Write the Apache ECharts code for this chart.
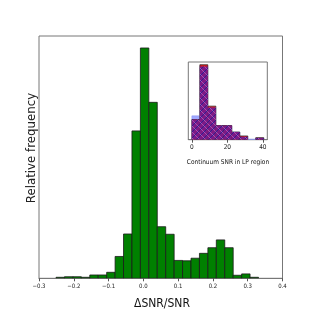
<!DOCTYPE html>
<html><head><meta charset="utf-8">
<script src="https://cdn.jsdelivr.net/npm/echarts@6/dist/echarts.min.js"></script>
<style>html,body{margin:0;padding:0;background:#fff}#c{width:314px;height:314px}</style>
</head><body><div id="c"></div>
<script>
// Main histogram: bin edges and relative frequencies
const binStart = -0.251;
const binWidth = 0.02425;
const mainFreq = [0.0011,0.0017,0.0017,0.0011,0.0036,0.0036,0.0065,0.0237,0.0481,0.160,0.250,0.191,0.056,0.0478,0.0194,0.0190,0.0218,0.0271,0.0332,0.0417,0.0332,0.0033,0.0048,0.0011];
const mainTicks = [-0.3,-0.2,-0.1,0.0,0.1,0.2,0.3,0.4];
// Inset histograms: continuum SNR in LP region
const insetEdges = [0,4.5,9,13.5,18,22.5,27,31.5,36,40.5];
const insetBlue = [0.140,0.430,0.189,0.083,0.083,0.045,0.018,0.004,0.010];
const insetRed  = [0.118,0.440,0.197,0.083,0.083,0.045,0.022,0.000,0.012];
const insetTicks = [0,20,40];

const mainData = mainFreq.map((v,i)=>[binStart+i*binWidth, binStart+(i+1)*binWidth, v]);
const blueData = insetBlue.map((v,i)=>[insetEdges[i],insetEdges[i+1],v]);
const redData = insetRed.map((v,i)=>[insetEdges[i],insetEdges[i+1],v]);
const overlapData = insetBlue.map((v,i)=>[insetEdges[i],insetEdges[i+1],Math.min(v,insetRed[i])]);

// hatch pattern
const pc = document.createElement('canvas');
pc.width = 6; pc.height = 6;
const g = pc.getContext('2d');
g.fillStyle = '#7d1a86'; g.fillRect(0,0,6,6);
g.strokeStyle = 'rgba(40,30,150,0.9)'; g.lineWidth = 1;
g.beginPath(); g.moveTo(0,6); g.lineTo(6,0); g.moveTo(-3,3); g.lineTo(3,-3); g.moveTo(3,9); g.lineTo(9,3); g.stroke();
g.strokeStyle = 'rgba(210,140,220,0.7)'; g.lineWidth = 0.7;
g.beginPath(); g.moveTo(0,0); g.lineTo(6,6); g.moveTo(-3,3); g.lineTo(3,9); g.moveTo(3,-3); g.lineTo(9,3); g.stroke();

function rectRender(fill, stroke, lw){
  return function(params, api){
    const x0 = api.value(0), x1 = api.value(1), y = api.value(2);
    if (y <= 0) return null;
    const p0 = api.coord([x0, y]);
    const p1 = api.coord([x1, 0]);
    return {type:'rect', shape:{x:p0[0], y:p0[1], width:p1[0]-p0[0], height:p1[1]-p0[1]},
      style:{fill:fill, stroke:stroke, lineWidth:lw}};
  };
}

const fmt = v => { const s = Math.abs(v).toFixed(1); return (v < -1e-9 ? '\u2212' : '') + s; };
const condensed = '"DejaVu Sans Condensed","Liberation Sans Narrow","DejaVu Sans",sans-serif';

const chart = echarts.init(document.getElementById('c'), null, {renderer:'canvas'});
chart.setOption({
  animation:false,
  grid:[
    {left:39, top:36, width:243.5, height:242.3, show:true, borderColor:'#777', borderWidth:1, containLabel:false},
    {left:188.3, top:62, width:79, height:77.7, show:true, borderColor:'#777', borderWidth:1, containLabel:false}
  ],
  xAxis:[
    {type:'value', gridIndex:0, min:-0.3, max:0.4, interval:0.1,
     axisLine:{show:true, onZero:false, lineStyle:{color:'#777', width:1}},
     axisTick:{show:true, inside:false, length:3, lineStyle:{color:'#555'}},
     axisLabel:{show:true, formatter:fmt, fontSize:6, color:'#222', margin:5, fontFamily:condensed},
     splitLine:{show:false}},
    {type:'value', gridIndex:1, min:-2, max:42.5,
     axisLine:{show:true, onZero:false, lineStyle:{color:'#777', width:1}},
     axisTick:{show:true, inside:false, length:3, customValues:insetTicks, lineStyle:{color:'#555'}},
     axisLabel:{show:true, customValues:insetTicks, fontSize:6.5, color:'#222', margin:4, fontFamily:condensed},
     splitLine:{show:false}}
  ],
  yAxis:[
    {type:'value', gridIndex:0, min:0, max:0.263,
     axisLine:{show:false, onZero:false}, axisTick:{show:false}, axisLabel:{show:false}, splitLine:{show:false}},
    {type:'value', gridIndex:1, min:0, max:0.456,
     axisLine:{show:false, onZero:false}, axisTick:{show:false}, axisLabel:{show:false}, splitLine:{show:false}}
  ],
  series:[
    {type:'custom', xAxisIndex:0, yAxisIndex:0, data:mainData, encode:{x:[0,1], y:2},
     renderItem:rectRender('#008000','#1a1a1a',0.8), clip:true},
    {type:'custom', xAxisIndex:1, yAxisIndex:1, data:blueData, encode:{x:[0,1], y:2},
     renderItem:rectRender('#a0a8ff','#8890ee',0.5), clip:true},
    {type:'custom', xAxisIndex:1, yAxisIndex:1, data:redData, encode:{x:[0,1], y:2},
     renderItem:rectRender('#d81c1c','#222',0.7), clip:true},
    {type:'custom', xAxisIndex:1, yAxisIndex:1, data:overlapData, encode:{x:[0,1], y:2},
     renderItem:rectRender({image:pc, repeat:'repeat'},'rgba(0,0,0,0)',0), clip:true}
  ],
  graphic:[
    {type:'text', x:162, y:303.5, style:{text:'\u0394SNR/SNR', align:'center', verticalAlign:'middle', fontSize:12, fontFamily:condensed, fill:'#111'}},
    {type:'text', x:31.5, y:148, rotation:Math.PI/2, style:{text:'Relative frequency', align:'center', verticalAlign:'middle', fontSize:11.8, fontFamily:'"DejaVu Sans",sans-serif', fill:'#222'}},
    {type:'text', x:228, y:162.7, style:{text:'Continuum SNR in LP region', align:'center', verticalAlign:'middle', fontSize:6.5, fontFamily:condensed, fill:'#111'}}
  ]
});
</script>
</body></html>
